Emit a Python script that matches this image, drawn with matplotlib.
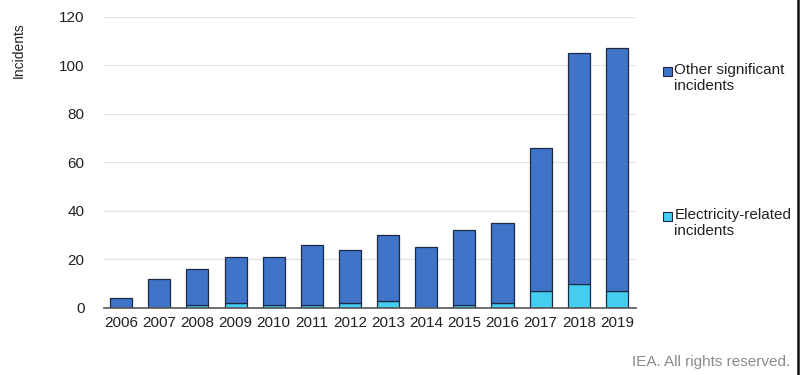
import matplotlib.pyplot as plt
from matplotlib.patches import Rectangle
from matplotlib.lines import Line2D
import numpy as np

plt.rcParams['font.family'] = ['Liberation Sans', 'DejaVu Sans']

years = ['2006', '2007', '2008', '2009', '2010', '2011', '2012',
         '2013', '2014', '2015', '2016', '2017', '2018', '2019']
total = [4, 12, 16, 21, 21, 26, 24, 30, 25, 32, 35, 66, 105, 107]
electricity = [0, 0, 1, 2, 1, 1, 2, 3, 0, 1, 2, 7, 10, 7]
other = [t - e for t, e in zip(total, electricity)]

c_other = '#3f74c9'
c_elec = '#45cdf2'
edge = '#1c2a45'

fig = plt.figure(figsize=(8, 3.75), dpi=100)
ax = fig.add_axes([0.13, 0.179, 0.665, 0.776])

x = np.arange(len(years))
ax.bar(x, electricity, width=0.58, color=c_elec, edgecolor=edge, linewidth=0.9, zorder=3)
ax.bar(x, other, bottom=electricity, width=0.58, color=c_other, edgecolor=edge, linewidth=0.9, zorder=3)

ax.set_xlim(-0.45, 13.5)
ax.set_ylim(0, 120)
ax.set_yticks(range(0, 121, 20))
ax.set_xticks(x)
ax.set_xticklabels(years)
ax.tick_params(length=0, labelsize=11, colors='#222222')
ax.tick_params(axis='y', pad=14)
ax.tick_params(axis='x', pad=6)
ax.grid(axis='y', color='#e3e3e3', linewidth=0.9, zorder=0)
for s in ['top', 'right', 'left']:
    ax.spines[s].set_visible(False)
ax.spines['bottom'].set_color('#555555')
ax.spines['bottom'].set_linewidth(1.2)
ax.spines['bottom'].set_zorder(4)

fig.text(0.024, 0.865, 'Incidents', rotation=90, ha='center', va='center',
         fontsize=10, color='#222222')

# legend
fig.patches.append(Rectangle((0.829, 0.797), 0.011, 0.024, transform=fig.transFigure,
                             facecolor=c_other, edgecolor=edge, linewidth=0.8))
fig.text(0.843, 0.831, 'Other significant\nincidents', ha='left', va='top',
         fontsize=11, color='#222222', linespacing=1.15)
fig.patches.append(Rectangle((0.829, 0.410), 0.011, 0.024, transform=fig.transFigure,
                             facecolor=c_elec, edgecolor=edge, linewidth=0.8))
fig.text(0.843, 0.444, 'Electricity-related\nincidents', ha='left', va='top',
         fontsize=11, color='#222222', linespacing=1.15)

fig.text(0.988, 0.035, 'IEA. All rights reserved.', ha='right', va='center',
         fontsize=11, color='#8a8a8a')

# right border
fig.lines.append(Line2D([0.997, 0.997], [0, 1], transform=fig.transFigure,
                        color='#111111', linewidth=1.8))

fig.savefig('out.png', dpi=100, facecolor='white')
